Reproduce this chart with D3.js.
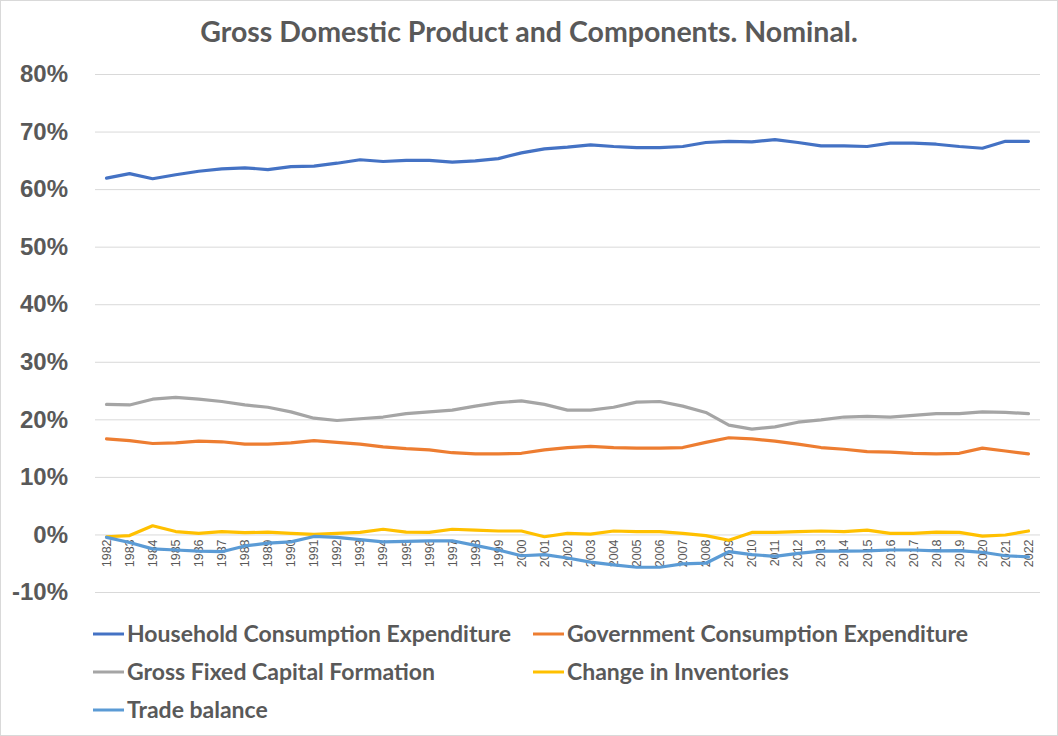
<!DOCTYPE html>
<meta charset="utf-8">
<style>
body { margin: 0; background: #fff; }
svg { font-family: Lato, "Open Sans", sans-serif; }
.grid line { stroke: #d9d9d9; stroke-width: 1px; }
.grid path { display: none; }
.yaxis text { fill: #595959; font-size: 24px; font-weight: bold; }
.xaxis text { fill: #595959; font-size: 12.5px; }
.legend text { fill: #595959; font-size: 23px; font-weight: bold; }
.title { fill: #595959; font-size: 28.5px; font-weight: bold; }
.line { fill: none; stroke-width: 3.2px; stroke-linejoin: round; stroke-linecap: round; }
</style>
<body>
<div id="chart"></div>
<script src="https://cdn.jsdelivr.net/npm/d3@7"></script>
<script>
var years = d3.range(1982, 2023);

// shares of GDP, percent
var household = [61.9,62.7,61.8,62.5,63.1,63.5,63.7,63.4,63.9,64.0,64.5,65.1,64.8,65.0,
  65.0,64.7,64.9,65.3,66.3,67.0,67.3,67.7,67.4,67.2,67.2,67.4,68.1,68.3,
  68.2,68.6,68.1,67.5,67.5,67.4,68.0,68.0,67.8,67.4,67.1,68.3,68.3];
var government = [16.6,16.3,15.8,15.9,16.2,16.1,15.7,15.7,15.9,16.3,16.0,15.7,15.2,14.9,
  14.7,14.2,14.0,14.0,14.1,14.7,15.1,15.3,15.1,15.0,15.0,15.1,16.0,16.8,
  16.6,16.2,15.7,15.1,14.8,14.4,14.3,14.1,14.0,14.1,15.0,14.5,14.0];
var fixedCapital = [22.6,22.5,23.5,23.8,23.5,23.1,22.5,22.1,21.3,20.2,19.8,20.1,20.4,21.0,
  21.3,21.6,22.3,22.9,23.2,22.6,21.6,21.6,22.1,23.0,23.1,22.3,21.2,19.0,
  18.3,18.7,19.5,19.9,20.4,20.5,20.4,20.7,21.0,21.0,21.3,21.2,21.0];
var inventories = [-0.4,-0.2,1.5,0.5,0.2,0.5,0.3,0.4,0.2,0.0,0.2,0.35,0.9,0.4,
  0.35,0.9,0.75,0.6,0.6,-0.4,0.2,0.05,0.6,0.5,0.5,0.2,-0.2,-1.0,
  0.35,0.35,0.5,0.6,0.5,0.75,0.2,0.2,0.4,0.35,-0.3,-0.1,0.6];
var tradeBalance = [-0.5,-1.4,-2.5,-2.7,-2.9,-3.0,-2.0,-1.5,-1.3,-0.35,-0.5,-0.9,-1.3,-1.2,
  -1.1,-1.1,-1.9,-2.7,-3.7,-3.5,-4.1,-4.8,-5.3,-5.7,-5.7,-5.1,-5.0,-3.0,
  -3.5,-3.8,-3.3,-2.9,-2.9,-2.85,-2.7,-2.7,-2.85,-2.8,-3.1,-3.7,-3.9];

var seriesNames = ["Household Consumption Expenditure", "Government Consumption Expenditure",
  "Gross Fixed Capital Formation", "Change in Inventories", "Trade balance"];
var seriesColors = ["#4472c4", "#ed7d31", "#a5a5a5", "#ffc000", "#5b9bd5"];
var yTicks = [-10, 0, 10, 20, 30, 40, 50, 60, 70, 80];

var series = [household, government, fixedCapital, inventories, tradeBalance].map(function(v, i) {
  return {name: seriesNames[i], color: seriesColors[i], values: v};
});

var W = 1058, H = 736;
var margin = {top: 74, right: 18, bottom: 144, left: 95};

var svg = d3.select("#chart").append("svg")
    .attr("width", W)
    .attr("height", H);

svg.append("rect")
    .attr("x", 0.5).attr("y", 0.5)
    .attr("width", W - 1).attr("height", H - 1)
    .attr("fill", "#fff")
    .attr("stroke", "#d9d9d9");

var x = d3.scaleBand()
    .domain(years)
    .range([margin.left, W - margin.right]);

var y = d3.scaleLinear()
    .domain([-10, 80])
    .range([H - margin.bottom, margin.top]);

svg.append("g")
    .attr("class", "grid")
    .attr("transform", "translate(" + margin.left + ",0)")
    .call(d3.axisLeft(y).tickValues(yTicks)
      .tickSize(-(W - margin.left - margin.right)).tickFormat(""))
    .call(function(g) { g.selectAll("line").attr("stroke", null); });

var yAxis = svg.append("g")
    .attr("class", "yaxis")
    .attr("transform", "translate(68,0)")
    .call(d3.axisLeft(y).tickValues(yTicks).tickSize(0).tickPadding(0)
      .tickFormat(function(d) { return d + "%"; }));
yAxis.select(".domain").remove();

// category labels sit next to the 0% line, rotated
var xAxis = svg.append("g")
    .attr("class", "xaxis")
    .attr("transform", "translate(0," + y(0) + ")")
    .call(d3.axisBottom(x).tickSize(0).tickPadding(0));
xAxis.select(".domain").remove();
xAxis.selectAll("text")
    .attr("transform", "translate(0,5) rotate(-90)")
    .attr("text-anchor", "end")
    .attr("dy", "0.35em")
    .attr("y", 0)
    .attr("x", 0);

var line = d3.line()
    .x(function(d, i) { return x(years[i]) + x.bandwidth() / 2; })
    .y(function(d) { return y(d); });

svg.selectAll(".line")
    .data(series)
  .enter().append("path")
    .attr("class", "line")
    .attr("stroke", function(d) { return d.color; })
    .attr("d", function(d) { return line(d.values); });

svg.append("text")
    .attr("class", "title")
    .attr("x", 529)
    .attr("y", 42)
    .attr("text-anchor", "middle")
    .text("Gross Domestic Product and Components. Nominal.");

var legend = svg.append("g").attr("class", "legend");
var item = legend.selectAll("g")
    .data(series)
  .enter().append("g")
    .attr("transform", function(d, i) {
      return "translate(" + (i % 2 ? 533 : 93) + "," + (634 + Math.floor(i / 2) * 38) + ")";
    });
item.append("line")
    .attr("x1", 0).attr("x2", 31)
    .attr("stroke", function(d) { return d.color; })
    .attr("stroke-width", 3);
item.append("text")
    .attr("x", 34)
    .attr("dy", "0.35em")
    .text(function(d) { return d.name; });
</script>
</body>
